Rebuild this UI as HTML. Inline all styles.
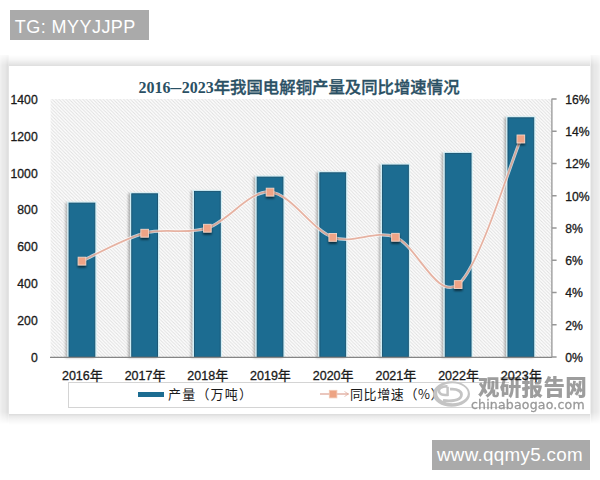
<!DOCTYPE html>
<html><head><meta charset="utf-8"><style>
html,body{margin:0;padding:0;background:#fff;}
body{width:600px;height:480px;position:relative;overflow:hidden;font-family:"Liberation Sans","Noto Sans CJK SC",sans-serif;}
.tg{position:absolute;left:10px;top:10px;width:139px;height:29.5px;background:#aaaaaa;color:#fff;font-size:18px;line-height:35.5px;letter-spacing:0.45px;text-indent:4.8px;white-space:nowrap;overflow:hidden;}
.url{position:absolute;left:432px;top:440px;width:158px;height:30px;background:#aaaaaa;color:#fff;font-size:18.8px;line-height:30px;letter-spacing:0.3px;text-indent:5px;white-space:nowrap;overflow:hidden;}
.sh{position:absolute;}
.sht{left:9px;top:55px;width:581px;height:10.5px;background:linear-gradient(to bottom,rgba(0,0,0,0),rgba(0,0,0,0.04) 45%,rgba(0,0,0,0.13));}
.shb{left:9px;top:414px;width:581px;height:10.5px;background:linear-gradient(to bottom,rgba(0,0,0,0.14),rgba(0,0,0,0.08) 25%,rgba(0,0,0,0.04) 55%,rgba(0,0,0,0));}
.shl{left:0;top:55px;width:9px;height:369px;background:linear-gradient(to right,rgba(0,0,0,0.05),rgba(0,0,0,0.085) 30%,rgba(0,0,0,0.09) 55%,rgba(0,0,0,0.13) 85%,rgba(0,0,0,0.09));-webkit-mask-image:linear-gradient(to bottom,rgba(0,0,0,0.2),#000 10px,#000 calc(100% - 12px),transparent);}
.shr{left:590px;top:55px;width:10px;height:369px;background:linear-gradient(to left,rgba(0,0,0,0.05),rgba(0,0,0,0.085) 30%,rgba(0,0,0,0.09) 55%,rgba(0,0,0,0.13) 85%,rgba(0,0,0,0.03));-webkit-mask-image:linear-gradient(to bottom,rgba(0,0,0,0.2),#000 10px,#000 calc(100% - 12px),transparent);}
.chart{position:absolute;left:0;top:0;}
.ax{font-family:"Liberation Sans","Noto Sans CJK SC",sans-serif;font-size:12.2px;fill:#1a1a1a;stroke:#1a1a1a;stroke-width:0.3px;}
.xl{font-size:12.5px;}
.cj{font-family:"Noto Sans CJK SC",sans-serif;font-size:13px;}
.title{position:absolute;left:138.5px;top:74px;height:24px;line-height:24px;white-space:nowrap;color:#2a5064;font-weight:bold;}
.title .d{font-family:"Liberation Serif",serif;font-size:16px;letter-spacing:0px;}
.title .dash{display:inline-block;transform:scaleX(1.35);margin:0 1.6px;}
.title .c{font-family:"Noto Sans CJK SC",sans-serif;font-size:16.4px;font-weight:500;-webkit-text-stroke:0.35px #2a5064;}
.legend{position:absolute;left:67.5px;top:381.8px;width:440px;height:24px;border:1px solid #d4d4d4;border-right:none;background:#fff;}
.lg1{position:absolute;left:138px;top:391.5px;width:26px;height:5.5px;background:#1c6c91;}
.lt{position:absolute;top:385px;height:18px;line-height:18px;font-family:"Noto Sans CJK SC",sans-serif;font-size:13px;color:#1a1a1a;white-space:nowrap;}
.wm{position:absolute;white-space:nowrap;color:#8d8d8d;}
</style></head><body>
<div class="tg">TG: MYYJJPP</div>
<div class="sh sht"></div><div class="sh shb"></div><div class="sh shl"></div><div class="sh shr"></div>
<div class="legend"></div>
<div class="lg1"></div>
<div class="lt" style="left:168px;letter-spacing:1.2px">产量（万吨）</div>
<svg style="position:absolute;left:318px;top:386px" width="34" height="16" viewBox="0 0 34 16"><path d="M2,8H30.5" stroke="#d99a88" stroke-opacity="0.85" stroke-width="1.3"/><path d="M26.5,5.5L30.5,8L26.5,10.5" fill="none" stroke="#e0a898" stroke-opacity="0.7" stroke-width="1"/><rect x="11.3" y="4.3" width="7.6" height="7.6" fill="#eda484" stroke="#f3c8b4" stroke-width="0.8"/></svg>
<div class="lt" style="left:350px;letter-spacing:0.6px">同比增速（%）</div>
<div class="wm" style="left:478px;top:374px;font-family:'Noto Sans CJK SC',sans-serif;font-weight:900;font-size:21.5px;line-height:24px;letter-spacing:0.3px;opacity:0.85">观研报告网</div>
<div class="wm" style="left:471px;top:396.5px;font-family:'DejaVu Sans',sans-serif;font-size:12.5px;line-height:16px;letter-spacing:0.2px;opacity:0.9;-webkit-text-stroke:0.3px #8d8d8d">chinabaogao.com</div>
<svg style="position:absolute;left:428px;top:377px" width="46" height="33" viewBox="0 0 46 33"><path fill="#c4c4c4" fill-rule="evenodd" d="M5,17a18.5,12.8 0 1,0 37,0a18.5,12.8 0 1,0 -37,0Z M9.2,16.2a15.3,10 0 1,0 30.6,0a15.3,10 0 1,0 -30.6,0Z"/><g fill="none" stroke="#c4c4c4"><path d="M19.5,9.3 C13,9.1 9.8,12.3 11.2,15.2 C12.6,17.9 17.2,18.2 19.6,17.9 L19.6,9.8" stroke-width="2.5"/><path d="M22,12.2 C29.5,11.4 34.8,14.8 33.2,19.2 C31.6,23.6 22.5,24.6 15,23.4" stroke-width="2.7"/></g></svg>
<svg class="chart" width="600" height="480" viewBox="0 0 600 480">
<defs>
<pattern id="hatch" patternUnits="userSpaceOnUse" width="3.4" height="3.4" patternTransform="translate(0.5,0)">
<rect width="3.4" height="3.4" fill="#fdfdfd"/>
<path d="M-1,-1 L4.4,4.4 M-1,2.4 L1,4.4 M2.4,-1 L4.4,1" stroke="#dfdfdf" stroke-width="0.95"/>
</pattern>
<filter id="bsh" x="-30%" y="-10%" width="160%" height="120%">
<feGaussianBlur in="SourceAlpha" stdDeviation="1.2"/>
<feOffset dx="-2" dy="1" result="b"/>
<feFlood flood-color="#000" flood-opacity="0.26"/>
<feComposite in2="b" operator="in"/>
<feMerge><feMergeNode/><feMergeNode in="SourceGraphic"/></feMerge>
</filter>
<filter id="msh" x="-50%" y="-50%" width="200%" height="200%">
<feGaussianBlur in="SourceAlpha" stdDeviation="0.8"/>
<feOffset dx="-0.4" dy="1.5" result="b"/>
<feFlood flood-color="#000" flood-opacity="0.6"/>
<feComposite in2="b" operator="in"/>
<feMerge><feMergeNode/><feMergeNode in="SourceGraphic"/></feMerge>
</filter>
</defs>
<rect x="50.6" y="99" width="501.2" height="258" fill="url(#hatch)"/>
<g filter="url(#bsh)" fill="#d2eff6"><rect x="67.35" y="201.6" width="29.2" height="155.4"/><rect x="130.05" y="192.3" width="29.2" height="164.7"/><rect x="192.75" y="189.9" width="29.2" height="167.1"/><rect x="255.45" y="175.6" width="29.2" height="181.4"/><rect x="318.15" y="171.3" width="29.2" height="185.7"/><rect x="380.85" y="163.6" width="29.2" height="193.4"/><rect x="443.55" y="151.9" width="29.2" height="205.1"/><rect x="506.25" y="116.3" width="29.2" height="240.7"/></g>
<g fill="#1c6c91" stroke="#14506e" stroke-width="0.9"><rect x="69.05" y="203.1" width="25.8" height="153.9"/><rect x="131.75" y="193.8" width="25.8" height="163.2"/><rect x="194.45" y="191.4" width="25.8" height="165.6"/><rect x="257.15" y="177.1" width="25.8" height="179.9"/><rect x="319.85" y="172.8" width="25.8" height="184.2"/><rect x="382.55" y="165.1" width="25.8" height="191.9"/><rect x="445.25" y="153.4" width="25.8" height="203.6"/><rect x="507.95" y="117.8" width="25.8" height="239.2"/></g>
<path d="M50,357.3H552" stroke="#858585" stroke-width="1.2"/>
<path d="M551.9,98.5V357.5M552,357H556.6M552,324.75H556.6M552,292.5H556.6M552,260.25H556.6M552,228H556.6M552,195.75H556.6M552,163.5H556.6M552,131.25H556.6M552,99H556.6" stroke="#979797" stroke-width="1.3" fill="none"/>
<path d="M81.95,261 C92.4,256.35 123.75,238.58 144.65,233.1 C165.55,227.62 186.45,234.95 207.35,228.1 C228.25,221.25 249.15,190.47 270.05,192 C290.95,193.53 311.85,229.72 332.75,237.25 C353.65,244.78 374.55,229.28 395.45,237.15 C416.35,245.02 437.25,300.84 458.15,284.45 C479.05,268.06 510.4,163.08 520.85,138.8" fill="none" stroke="#ffffff" stroke-opacity="0.72" stroke-width="3.2"/>
<path d="M81.95,261 C92.4,256.35 123.75,238.58 144.65,233.1 C165.55,227.62 186.45,234.95 207.35,228.1 C228.25,221.25 249.15,190.47 270.05,192 C290.95,193.53 311.85,229.72 332.75,237.25 C353.65,244.78 374.55,229.28 395.45,237.15 C416.35,245.02 437.25,300.84 458.15,284.45 C479.05,268.06 510.4,163.08 520.85,138.8" fill="none" stroke="#de9680" stroke-opacity="0.72" stroke-width="1.8"/>
<g fill="#f0a486" stroke="#f5d3c4" stroke-width="0.9" filter="url(#msh)"><rect x="78.15" y="257.2" width="7.6" height="7.8"/><rect x="140.85" y="229.3" width="7.6" height="7.8"/><rect x="203.55" y="224.3" width="7.6" height="7.8"/><rect x="266.25" y="188.2" width="7.6" height="7.8"/><rect x="328.95" y="233.45" width="7.6" height="7.8"/><rect x="391.65" y="233.35" width="7.6" height="7.8"/><rect x="454.35" y="280.65" width="7.6" height="7.8"/><rect x="517.05" y="135" width="7.6" height="7.8"/></g>
<g class="ax" text-anchor="end"><text x="37.7" y="361.8">0</text><text x="37.7" y="324.94">200</text><text x="37.7" y="288.09">400</text><text x="37.7" y="251.23">600</text><text x="37.7" y="214.37">800</text><text x="37.7" y="177.51">1000</text><text x="37.7" y="140.66">1200</text><text x="37.7" y="103.8">1400</text></g>
<g class="ax"><text x="565.3" y="361.9">0%</text><text x="565.3" y="329.65">2%</text><text x="565.3" y="297.4">4%</text><text x="565.3" y="265.15">6%</text><text x="565.3" y="232.9">8%</text><text x="565.3" y="200.65">10%</text><text x="565.3" y="168.4">12%</text><text x="565.3" y="136.15">14%</text><text x="565.3" y="103.9">16%</text></g>
<g class="ax xl"><text x="61.95" y="379.6">2016<tspan class="cj">年</tspan></text><text x="124.65" y="379.6">2017<tspan class="cj">年</tspan></text><text x="187.35" y="379.6">2018<tspan class="cj">年</tspan></text><text x="250.05" y="379.6">2019<tspan class="cj">年</tspan></text><text x="312.75" y="379.6">2020<tspan class="cj">年</tspan></text><text x="375.45" y="379.6">2021<tspan class="cj">年</tspan></text><text x="438.15" y="379.6">2022<tspan class="cj">年</tspan></text><text x="500.85" y="379.6">2023<tspan class="cj">年</tspan></text></g>
</svg>
<div class="title"><span class="d">2016<span class="dash">–</span>2023</span><span class="c">年我国电解铜产量及同比增速情况</span></div>
<div class="url">www.qqmy5.com</div>
</body></html>
